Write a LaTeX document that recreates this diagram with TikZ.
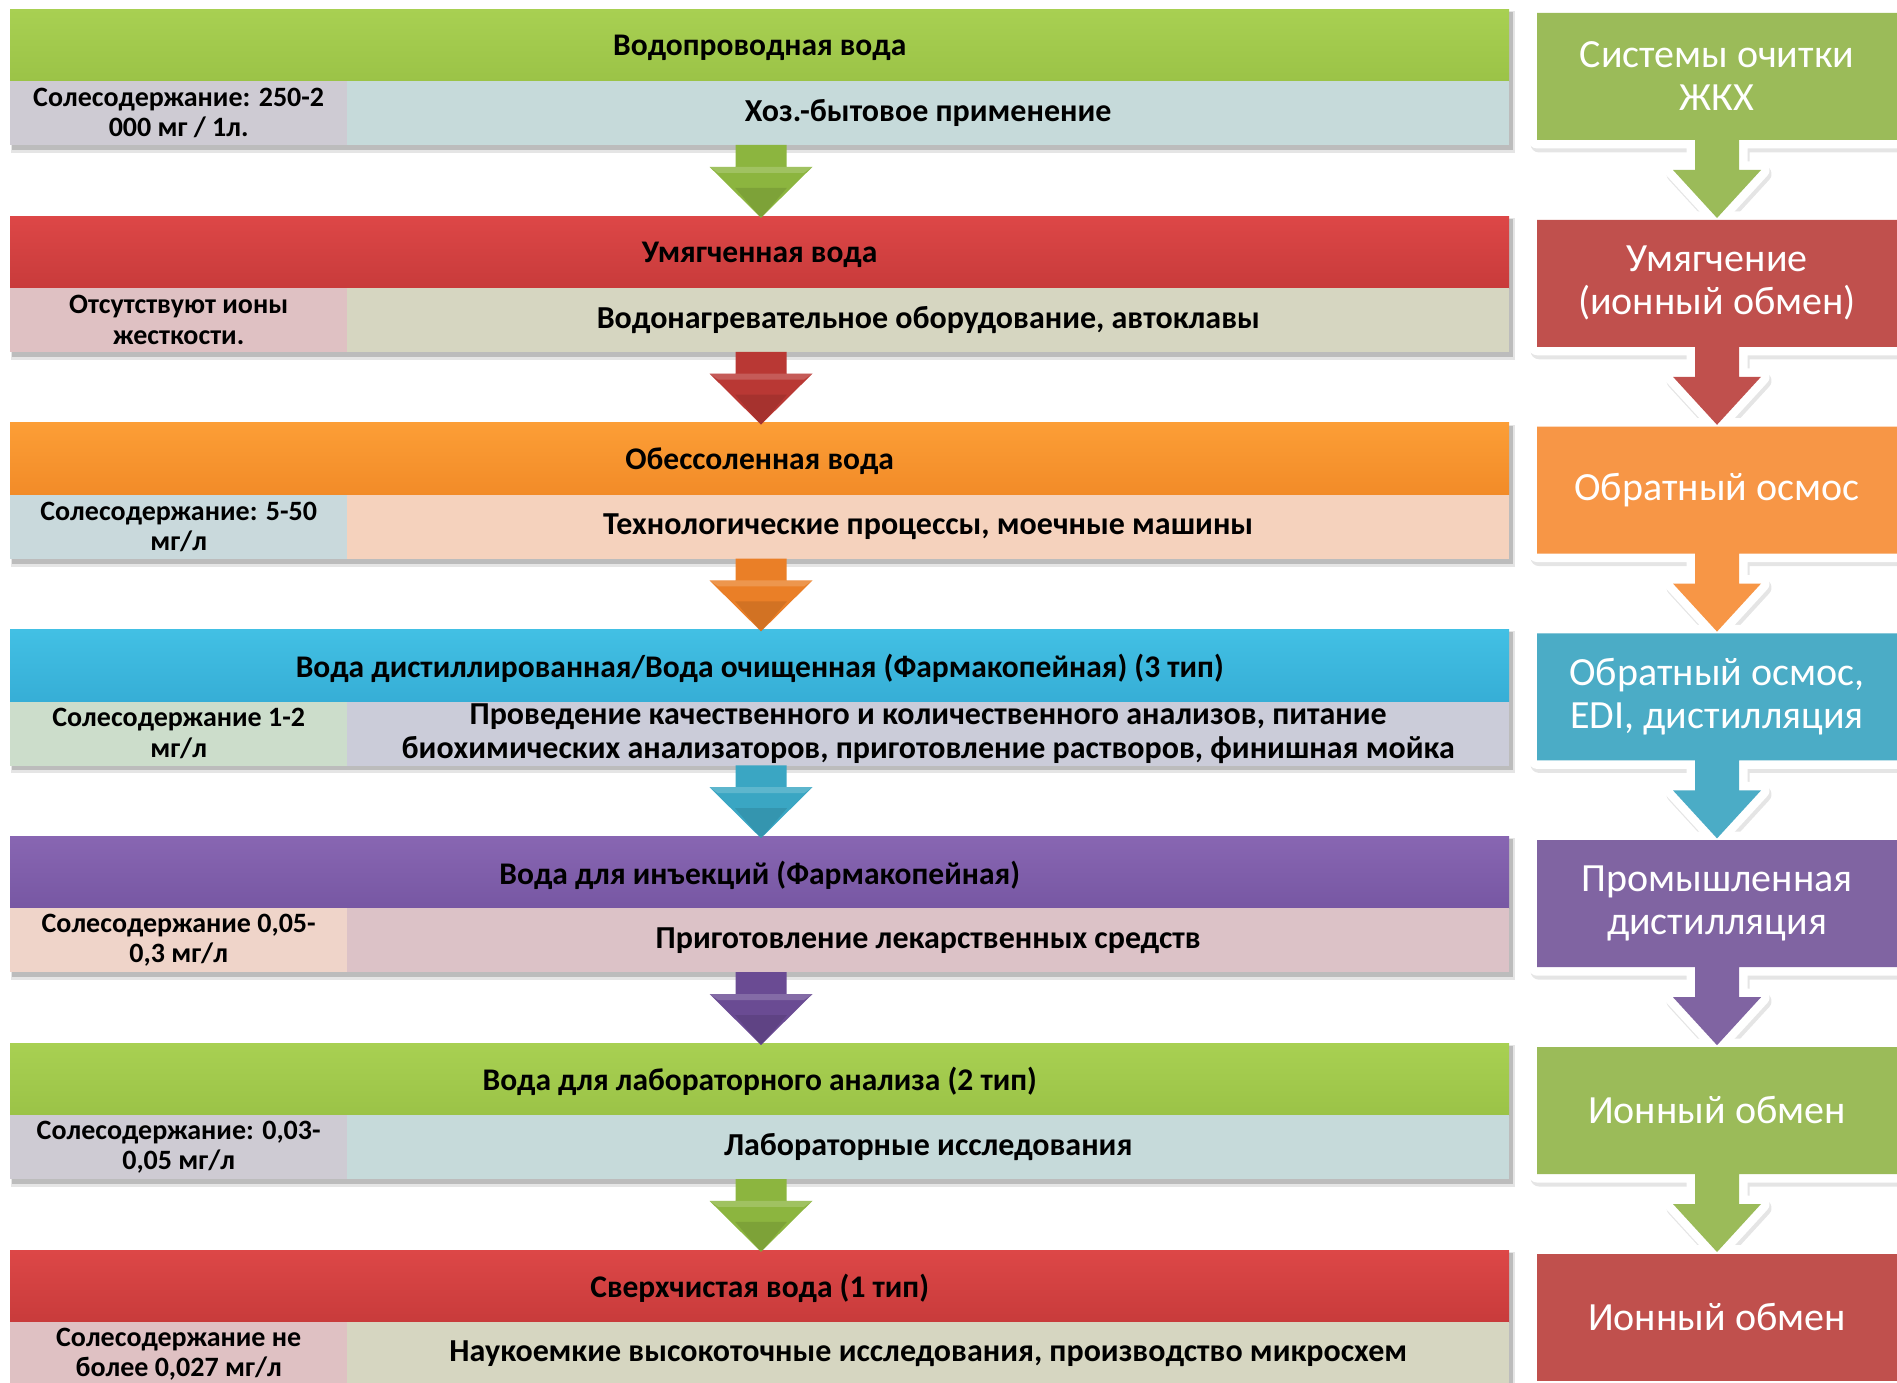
\documentclass[tikz,border=0pt]{standalone}
\usepackage{fontspec}
\setmainfont{Carlito}
\usetikzlibrary{calc}

\definecolor{gH}{HTML}{A8D052}\definecolor{gHd}{HTML}{9BC347}
\definecolor{rH}{HTML}{DD4747}\definecolor{rHd}{HTML}{C83B3B}
\definecolor{oH}{HTML}{FC9E36}\definecolor{oHd}{HTML}{F28B28}
\definecolor{cH}{HTML}{42C0E4}\definecolor{cHd}{HTML}{36AED6}
\definecolor{pH}{HTML}{8866B2}\definecolor{pHd}{HTML}{7757A3}

\definecolor{Lgray}{HTML}{CECBD3}\definecolor{Rblue}{HTML}{C6DADA}
\definecolor{Lpink}{HTML}{DFC1C3}\definecolor{Rkhaki}{HTML}{D6D6C1}
\definecolor{Lblue}{HTML}{C9D9DC}\definecolor{Rpeach}{HTML}{F5D2BD}
\definecolor{Lgreen}{HTML}{CCDDCB}\definecolor{Rlav}{HTML}{CBCCD9}
\definecolor{Lpeach}{HTML}{EFD4C9}\definecolor{Rpink}{HTML}{DCC2C7}

\definecolor{aG}{HTML}{8CB53F}\definecolor{aR}{HTML}{B93834}
\definecolor{aO}{HTML}{EA7F27}\definecolor{aC}{HTML}{3AA6C3}
\definecolor{aP}{HTML}{6A4B93}

\definecolor{bG}{HTML}{9BBB59}\definecolor{bR}{HTML}{C0504D}
\definecolor{bO}{HTML}{F79646}\definecolor{bC}{HTML}{4BACC6}
\definecolor{bP}{HTML}{8064A2}

\tikzset{
  hdr/.style={anchor=north west, minimum width=1499pt, minimum height=72pt,
    inner sep=0pt, text depth=-1pt, font=\fontsize{31.5}{36}\selectfont\bfseries, text=black},
  lcell/.style={anchor=north west, minimum width=337pt, minimum height=64pt,
    inner sep=0pt, align=center, font=\fontsize{28}{30.5}\selectfont\bfseries},
  rcell/.style={anchor=north west, minimum width=1162pt, minimum height=64pt,
    inner sep=0pt, align=center, font=\fontsize{32}{34}\selectfont\bfseries},
  rtext/.style={text=white, align=center, inner sep=0pt,
    font=\fontsize{40}{43}\selectfont},
  barshadow/.style={fill=black, opacity=0.18},
}

% block arrow in the middle column: #1 top of shaft, #2 y of tip, #3 colour
\newcommand\midarrow[3]{%
  \fill[#3] (735.5,#1) -- (786.5,#1) -- (786.5,{#2-51}) -- (812.5,{#2-51})
     -- (761,#2) -- (709.5,{#2-51}) -- (735.5,{#2-51}) -- cycle;
  \fill[white, opacity=0.18] (709.5,{#2-51}) -- (812.5,{#2-51}) -- (804,{#2-45})
     -- (718,{#2-45}) -- cycle;
  \fill[black, opacity=0.10] (761,#2) -- (735,{#2-30}) -- (787,{#2-30}) -- cycle;
}
% outline of a right-column box with its arrow: #1 top, #2 bottom
\newcommand\rboxpath[2]{(1537,#1) -- (1905,#1) -- (1905,#2) -- (1739,#2)
  -- (1739,{#2+30}) -- (1761,{#2+30}) -- (1717,{#2+78}) -- (1673,{#2+30})
  -- (1695,{#2+30}) -- (1695,#2) -- (1537,#2) -- cycle}
\newcommand\rboxlast[2]{(1537,#1) -- (1905,#1) -- (1905,#2) -- (1537,#2) -- cycle}

\begin{document}
\begin{tikzpicture}[x=1pt,y=-1pt]
\useasboundingbox (0,0) rectangle (1897,1383);
\clip (0,0) rectangle (1897,1383);

% ---------- right column: shadows, white borders, fills ----------
\foreach \t in {13,219.8,426.6,633.4,840.2,1047}{
  \pgfmathsetmacro\b{\t+127}
  \filldraw[black!10, line width=17pt, line join=round, shift={(2,4)}] \rboxpath{\t}{\b};
}
\filldraw[black!10, line width=17pt, shift={(2,4)}] \rboxlast{1253.8}{1380.8};
\foreach \t in {13,219.8,426.6,633.4,840.2,1047}{
  \pgfmathsetmacro\b{\t+127}
  \draw[white, line width=17pt, line join=round] \rboxpath{\t}{\b};
}
\draw[white, line width=17pt] \rboxlast{1253.8}{1380.8};
\foreach \t/\c in {13/bG,219.8/bR,426.6/bO,633.4/bC,840.2/bP,1047/bG}{
  \pgfmathsetmacro\b{\t+127}
  \fill[\c] \rboxpath{\t}{\b};
}
\fill[bR] \rboxlast{1253.8}{1380.8};

\node[rtext] (s1) at (1717,76.5) {Системы очитки\\ЖКХ};
\node[rtext] (s2) at (1717,283.3) {Умягчение\\(ионный обмен)};
\node[rtext] (s3) at (1717,490.1) {Обратный осмос};
\node[rtext] (s4) at (1717,696.9) {Обратный осмос,\\EDI, дистилляция};
\node[rtext] (s5) at (1717,903.7) {Промышленная\\дистилляция};
\node[rtext] (s6) at (1717,1110.5) {Ионный обмен};
\node[rtext] (s7) at (1717,1317.3) {Ионный обмен};

% ---------- left table: shadows ----------
\foreach \t in {9,215.8,422.6,629.4,836.2,1043,1249.8}{
  \fill[barshadow] (12,{\t+3}) rectangle (1513,{\t+141});
  \fill[black, opacity=0.10] (11,{\t+2}) rectangle (1515,{\t+144});
}

% ---------- rows ----------
\node[hdr, top color=gH, bottom color=gHd] (h1) at (10,9) {Водопроводная вода};
\node[lcell, fill=Lgray] (l1) at (10,81) {Солесодержание: 250-2\\000 мг / 1л.};
\node[rcell, fill=Rblue] (u1) at (347,81) {Хоз.-бытовое применение};

\node[hdr, top color=rH, bottom color=rHd] (h2) at (10,215.8) {Умягченная вода};
\node[lcell, fill=Lpink] (l2) at (10,287.8) {Отсутствуют ионы\\жесткости.};
\node[rcell, fill=Rkhaki] (u2) at (347,287.8) {Водонагревательное оборудование, автоклавы};

\node[hdr, top color=oH, bottom color=oHd] (h3) at (10,422.6) {Обессоленная вода};
\node[lcell, fill=Lblue] (l3) at (10,494.6) {Солесодержание: 5-50\\мг/л};
\node[rcell, fill=Rpeach] (u3) at (347,494.6) {Технологические процессы, моечные машины};

\node[hdr, top color=cH, bottom color=cHd] (h4) at (10,629.4) {Вода дистиллированная/Вода очищенная (Фармакопейная) (3 тип)};
\node[lcell, fill=Lgreen] (l4) at (10,701.4) {Солесодержание 1-2\\мг/л};
\node[rcell, fill=Rlav] (u4) at (347,701.4) {Проведение качественного и количественного анализов, питание\\биохимических анализаторов, приготовление растворов, финишная мойка};

\node[hdr, top color=pH, bottom color=pHd] (h5) at (10,836.2) {Вода для инъекций (Фармакопейная)};
\node[lcell, fill=Lpeach] (l5) at (10,908.2) {Солесодержание 0,05-\\0,3 мг/л};
\node[rcell, fill=Rpink] (u5) at (347,908.2) {Приготовление лекарственных средств};

\node[hdr, top color=gH, bottom color=gHd] (h6) at (10,1043) {Вода для лабораторного анализа (2 тип)};
\node[lcell, fill=Lgray] (l6) at (10,1115) {Солесодержание: 0,03-\\0,05 мг/л};
\node[rcell, fill=Rblue] (u6) at (347,1115) {Лабораторные исследования};

\node[hdr, top color=rH, bottom color=rHd] (h7) at (10,1249.8) {Сверхчистая вода (1 тип)};
\node[lcell, fill=Lpink] (l7) at (10,1321.8) {Солесодержание не\\более 0,027 мг/л};
\node[rcell, fill=Rkhaki] (u7) at (347,1321.8) {Наукоемкие высокоточные исследования, производство микросхем};

% ---------- middle arrows ----------
\midarrow{145}{217.8}{aG}
\midarrow{351.8}{424.6}{aR}
\midarrow{558.6}{631.4}{aO}
\midarrow{765.4}{838.2}{aC}
\midarrow{972.2}{1045}{aP}
\midarrow{1179}{1251.8}{aG}
\end{tikzpicture}
\end{document}
